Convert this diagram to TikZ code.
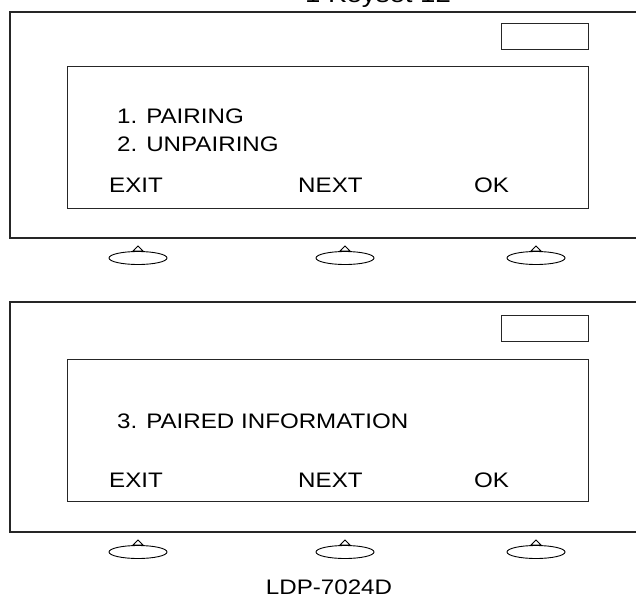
\documentclass[tikz,border=0pt]{standalone}
\usepackage{fontspec}
\setmainfont{Liberation Sans}[FakeStretch=1.15]
\begin{document}
\begin{tikzpicture}[x=1pt,y=-1pt,
  frame/.style={draw=black!85,line width=1.1pt},
  lbl/.style={anchor=base west,inner sep=0pt,font=\fontsize{21}{25}\selectfont},
  btn/.style={draw=black,line width=0.9pt},
]
\useasboundingbox (0,0) rectangle (636,604);
\clip (0,0) rectangle (636,604);
\node[anchor=base west,inner sep=0pt,font=\fontsize{24}{28}\selectfont] (title) at (305,3) {1 Keyset 12};
% panel 1
\draw[frame] (650,12) -- (10,12) -- (10,238) -- (650,238);
\node[frame,draw,minimum width=87pt,minimum height=26pt,inner sep=0pt,anchor=north west] (led1) at (501,23) {};
\node[frame,draw,minimum width=521pt,minimum height=142pt,inner sep=0pt,anchor=north west] (scr1) at (67,66) {};
\node[lbl] (pair) at (117,124) {1. PAIRING};
\node[lbl] (unpair) at (117,151) {2. UNPAIRING};
\node[lbl] (exit1) at (109,192) {EXIT};
\node[lbl] (next1) at (298,192) {NEXT};
\node[lbl] (ok1) at (474,192) {OK};
% panel 2
\draw[frame] (650,302) -- (10,302) -- (10,532) -- (650,532);
\node[frame,draw,minimum width=87pt,minimum height=26pt,inner sep=0pt,anchor=north west] (led2) at (501,315) {};
\node[frame,draw,minimum width=521pt,minimum height=142pt,inner sep=0pt,anchor=north west] (scr2) at (67,359) {};
\node[lbl] (info) at (117,428) {3. PAIRED INFORMATION};
\node[lbl] (exit2) at (109,487) {EXIT};
\node[lbl] (next2) at (298,487) {NEXT};
\node[lbl] (ok2) at (474,487) {OK};
% buttons
\foreach \yy in {238,532}{
  \foreach \xx in {138,345,536}{
    \draw[btn] (\xx-5,\yy+13) -- (\xx,\yy+8) -- (\xx+5,\yy+13) -- cycle;
    \draw[btn] (\xx,\yy+20) ellipse (29 and 6.5);
  }
}
\node[lbl,anchor=base] (model) at (329,594) {LDP-7024D};
\end{tikzpicture}
\end{document}
